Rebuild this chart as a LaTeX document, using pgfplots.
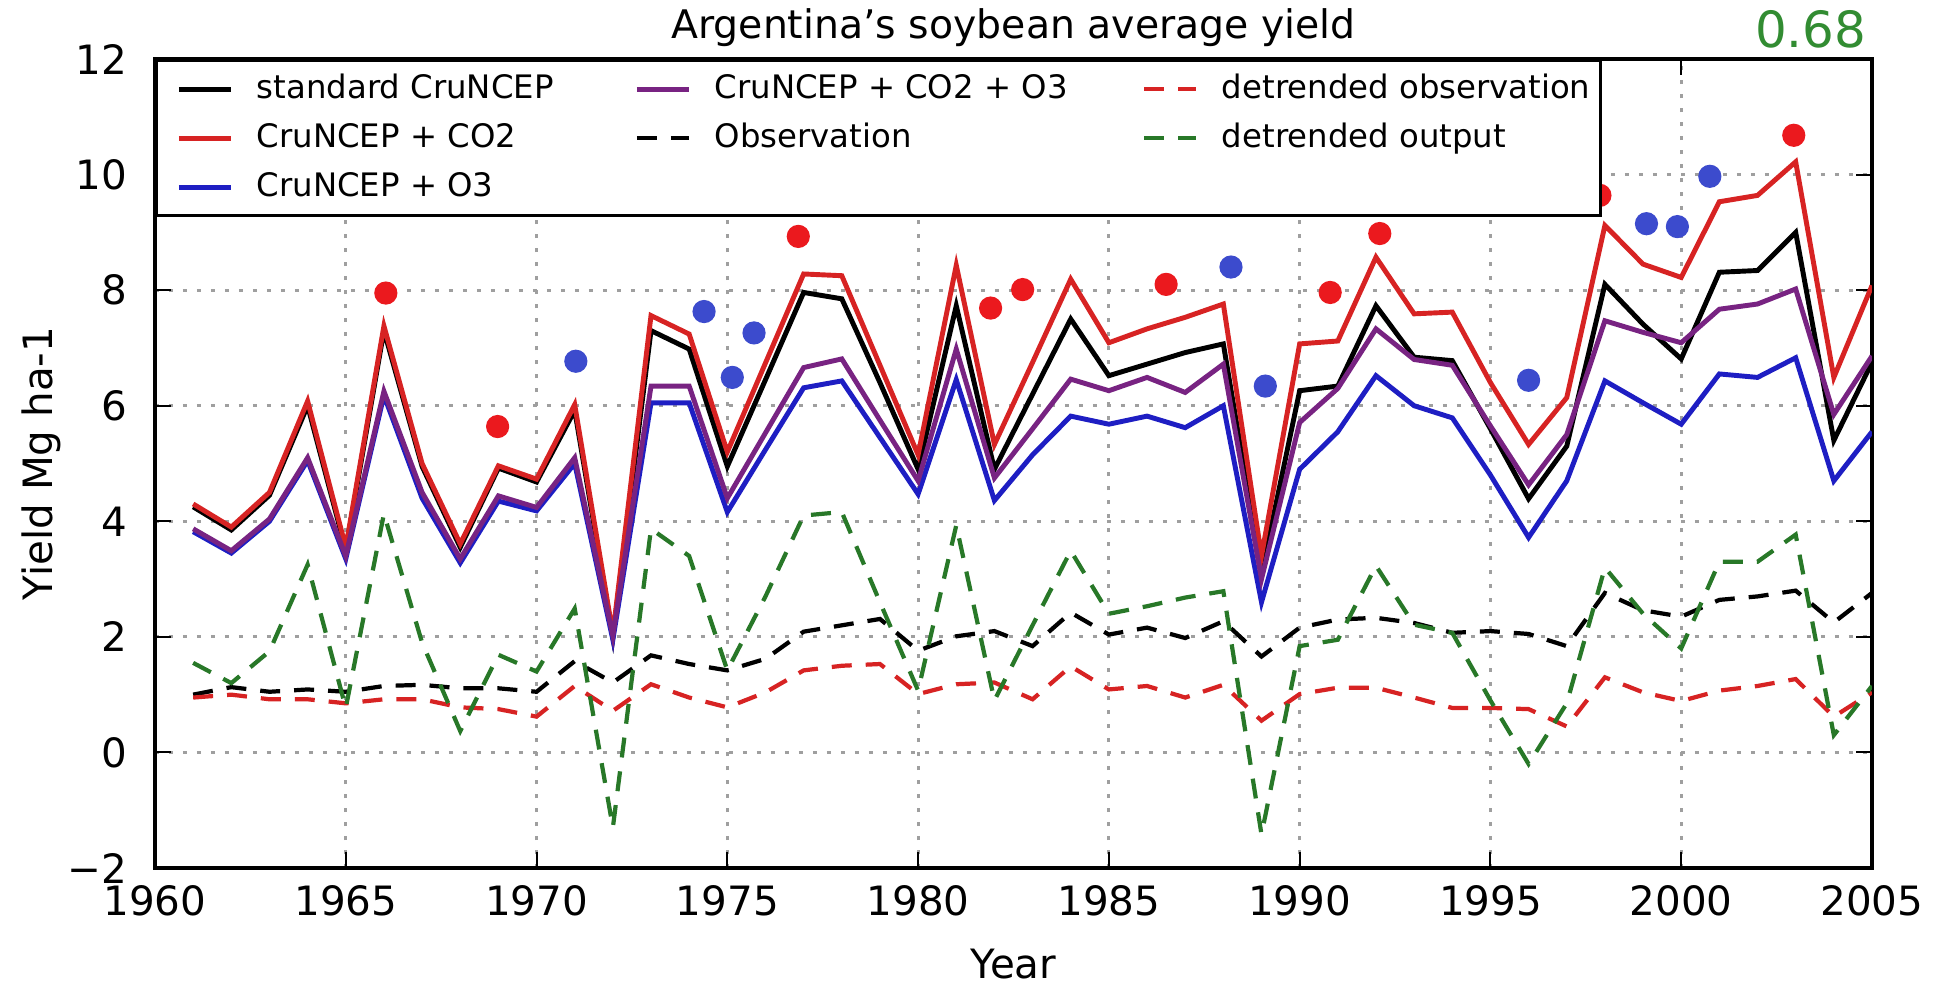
\documentclass[border=0pt]{standalone}
\usepackage{fontspec}
\setmainfont{DejaVu Sans}
\usepackage{pgfplots}
\usepackage{pgfplotstable}
\pgfplotsset{compat=1.18}

\definecolor{cRed}{RGB}{215,35,35}
\definecolor{cBlue}{RGB}{30,30,195}
\definecolor{cPurple}{RGB}{120,35,130}
\definecolor{cGreen}{RGB}{40,120,40}
\definecolor{dotRed}{RGB}{235,25,30}
\definecolor{dotBlue}{RGB}{60,75,205}
\definecolor{numGreen}{RGB}{50,140,50}

\pgfplotstableread{
year std co2 o3 co2o3 obs dobs dout
1961 4.25 4.30 3.82 3.87 1.00 0.95 1.55
1962 3.85 3.90 3.45 3.49 1.13 1.00 1.20
1963 4.45 4.50 4.00 4.04 1.05 0.92 1.75
1964 6.00 6.08 5.05 5.10 1.09 0.92 3.25
1965 3.50 3.55 3.35 3.40 1.05 0.85 0.77
1966 7.30 7.38 6.18 6.25 1.15 0.92 4.13
1967 4.95 5.00 4.40 4.50 1.17 0.92 1.90
1968 3.55 3.61 3.28 3.35 1.11 0.78 0.37
1969 4.92 4.96 4.35 4.44 1.11 0.75 1.69
1970 4.68 4.73 4.18 4.24 1.05 0.62 1.40
1971 5.92 6.02 5.00 5.10 1.58 1.15 2.49
1972 2.00 2.05 1.95 2.02 1.21 0.72 -1.30
1973 7.30 7.56 6.05 6.34 1.68 1.18 3.87
1974 6.98 7.24 6.05 6.34 1.53 0.95 3.40
1975 4.95 5.20 4.16 4.40 1.42 0.78 1.42
1976 6.45 6.74 5.24 5.53 1.62 1.04 2.70
1977 7.96 8.28 6.31 6.66 2.09 1.42 4.10
1978 7.85 8.25 6.43 6.81 2.20 1.50 4.16
1979 6.40 6.70 5.45 5.75 2.31 1.53 2.60
1980 4.90 5.15 4.47 4.70 1.76 1.01 1.07
1981 7.73 8.43 6.45 6.98 2.01 1.18 3.93
1982 4.90 5.33 4.36 4.75 2.10 1.21 0.90
1983 6.20 6.75 5.15 5.60 1.84 0.92 2.20
1984 7.50 8.19 5.82 6.46 2.42 1.49 3.49
1985 6.52 7.09 5.68 6.26 2.04 1.09 2.40
1986 6.72 7.33 5.82 6.49 2.16 1.15 2.53
1987 6.92 7.53 5.62 6.23 1.98 0.95 2.68
1988 7.07 7.76 6.00 6.72 2.27 1.17 2.79
1989 3.10 3.40 2.60 3.00 1.66 0.55 -1.42
1990 6.26 7.07 4.90 5.71 2.16 1.01 1.84
1991 6.34 7.12 5.55 6.30 2.30 1.12 1.95
1992 7.73 8.57 6.52 7.33 2.33 1.12 3.23
1993 6.84 7.59 6.00 6.80 2.24 0.95 2.21
1994 6.78 7.62 5.79 6.70 2.07 0.77 2.07
1995 5.60 6.40 4.80 5.65 2.10 0.77 0.90
1996 4.39 5.33 3.72 4.63 2.05 0.75 -0.20
1997 5.30 6.14 4.70 5.50 1.84 0.45 0.85
1998 8.10 9.12 6.43 7.47 2.76 1.30 3.20
1999 7.41 8.45 6.05 7.27 2.46 1.04 2.40
2000 6.81 8.22 5.68 7.09 2.35 0.89 1.80
2001 8.31 9.53 6.55 7.67 2.64 1.07 3.30
2002 8.34 9.64 6.49 7.76 2.70 1.15 3.30
2003 9.00 10.22 6.83 8.02 2.80 1.27 3.77
2004 5.40 6.49 4.70 5.85 2.25 0.62 0.30
2005 6.75 8.08 5.55 6.86 2.76 1.04 1.15
}\yielddata

\pgfplotstableread{
x y
1966.05 7.95
1968.98 5.64
1976.86 8.93
1981.90 7.69
1982.74 8.01
1986.50 8.10
1990.80 7.96
1992.10 8.98
1997.87 9.64
2002.95 10.68
}\reddots

\pgfplotstableread{
x y
1971.03 6.77
1974.39 7.63
1975.13 6.49
1975.70 7.26
1988.20 8.40
1989.10 6.34
1996.00 6.44
1999.09 9.15
1999.90 9.10
2000.75 9.97
}\bluedots

\begin{document}
\begin{tikzpicture}
\path[use as bounding box] (-15.5mm,-11.8mm) rectangle (178.4mm,86.8mm);
\begin{axis}[
  at={(0,0)}, anchor=south west,
  scale only axis, width=171.7mm, height=80.9mm,
  xmin=1960, xmax=2005, ymin=-2, ymax=12,
  xtick={1960,1965,...,2005},
  xticklabels={1960,1965,1970,1975,1980,1985,1990,1995,2000,2005},
  ytick={-2,0,2,4,6,8,10,12},
  yticklabels={−2,0,2,4,6,8,10,12},
  tick label style={font=\fontsize{11.5}{13}\selectfont, inner sep=0.5pt},
  xticklabel style={yshift=-1.5mm},
  yticklabel style={xshift=-2.55mm},
  tick align=inside, xtick pos=both, ytick pos=both,
  major tick length=1.6mm,
  tick style={black, line width=0.6pt},
  axis line style={line width=0.9pt},
  grid=major,
  grid style={gray!75, line width=0.8pt, dash pattern=on 0.4mm off 1.0mm},
  xlabel={Year},
  ylabel={Yield Mg ha-1},
  xlabel style={at={(axis description cs:0.5,-0.1187)}, anchor=center, font=\fontsize{11.5}{13}\selectfont},
  ylabel style={at={(axis description cs:-0.0664,0.5)}, anchor=center, font=\fontsize{11.5}{13}\selectfont},
  legend columns=3,
  legend cell align=left,
  legend image code/.code={\draw[#1] (0mm,0mm) -- (5.2mm,0mm);},
  legend style={at={(rel axis cs:0,1)}, anchor=north west,
    draw=black, line width=0.8pt, fill=white,
    inner xsep=2.0mm, inner ysep=0.57mm, row sep=0.3mm,
    font=\fontsize{9.2}{11}\selectfont,
    nodes={inner sep=0pt, text height=3.2mm, text depth=1.4mm},
    /tikz/every odd column/.append style={column sep=2.35mm}},
]
% legend (row-major order to give column-major layout)
\addlegendimage{black, line width=1.4pt}
\addlegendentry{\makebox[37.75mm][l]{standard CruNCEP}}
\addlegendimage{cPurple, line width=1.4pt}
\addlegendentry{\makebox[42.75mm][l]{CruNCEP + CO2 + O3}}
\addlegendimage{cRed, line width=1.2pt, dash pattern=on 2.0mm off 1.4mm}
\addlegendentry{\makebox[35.85mm][l]{detrended observation}}
\addlegendimage{cRed, line width=1.4pt}
\addlegendentry{\makebox[37.75mm][l]{CruNCEP + CO2}}
\addlegendimage{black, line width=1.2pt, dash pattern=on 2.0mm off 1.4mm}
\addlegendentry{\makebox[42.75mm][l]{Observation}}
\addlegendimage{cGreen, line width=1.2pt, dash pattern=on 2.0mm off 1.4mm}
\addlegendentry{\makebox[35.85mm][l]{detrended output}}
\addlegendimage{cBlue, line width=1.4pt}
\addlegendentry{\makebox[37.75mm][l]{CruNCEP + O3}}

\addplot[forget plot, black, line width=1.4pt] table[x=year, y=std] {\yielddata};
\addplot[forget plot, cRed, line width=1.4pt] table[x=year, y=co2] {\yielddata};
\addplot[forget plot, cBlue, line width=1.4pt] table[x=year, y=o3] {\yielddata};
\addplot[forget plot, cPurple, line width=1.4pt] table[x=year, y=co2o3] {\yielddata};
\addplot[forget plot, black, line width=1.2pt, dash pattern=on 2.0mm off 1.4mm] table[x=year, y=obs] {\yielddata};
\addplot[forget plot, cRed, line width=1.2pt, dash pattern=on 2.0mm off 1.4mm] table[x=year, y=dobs] {\yielddata};
\addplot[forget plot, cGreen, line width=1.2pt, dash pattern=on 2.0mm off 1.4mm] table[x=year, y=dout] {\yielddata};
\addplot[forget plot, only marks, mark=*, mark size=3.1pt, dotRed, mark options={draw=none, fill=dotRed}] table[x=x, y=y] {\reddots};
\addplot[forget plot, only marks, mark=*, mark size=3.1pt, dotBlue, mark options={draw=none, fill=dotBlue}] table[x=x, y=y] {\bluedots};
\end{axis}
\node[anchor=base, font=\fontsize{11.2}{13}\selectfont, inner sep=0pt] at (85.85mm,83.0mm) {Argentina's soybean average yield};
\node[anchor=base east, text=numGreen, font=\fontsize{14.2}{16}\selectfont, inner sep=0pt] at (171.2mm,82.1mm) {0.68};
\end{tikzpicture}
\end{document}
